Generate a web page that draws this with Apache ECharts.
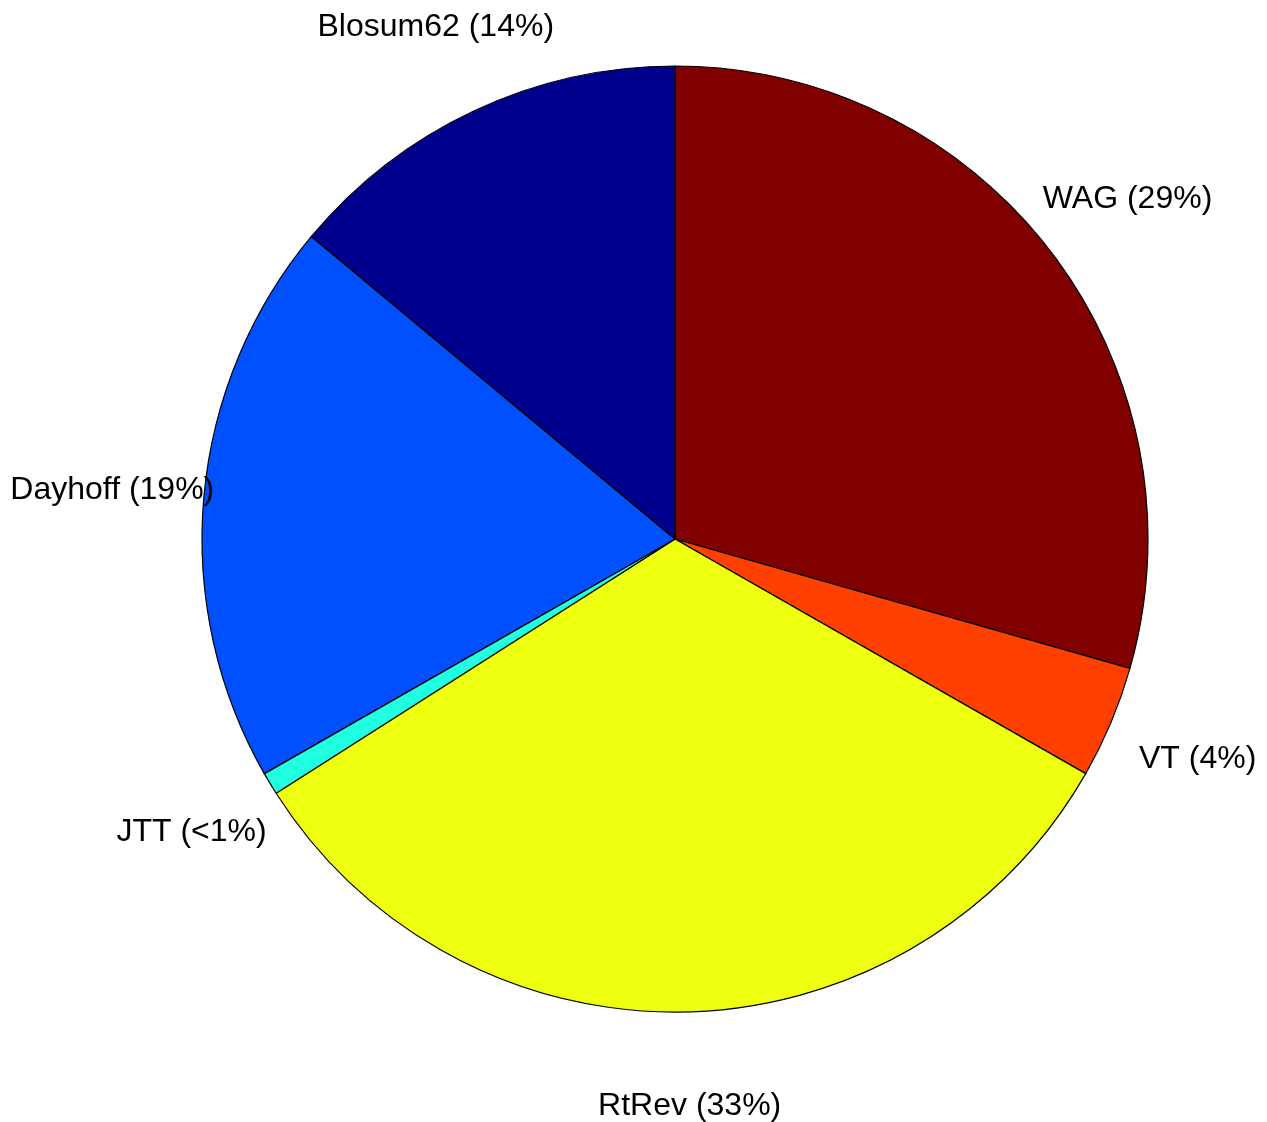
<!DOCTYPE html>
<html>
<head>
<meta charset="utf-8">
<script src="https://cdn.jsdelivr.net/npm/echarts@6/dist/echarts.min.js"></script>
<style>html,body{margin:0;padding:0;background:#fff;}#c{width:1267px;height:1122px;}</style>
</head>
<body>
<div id="c"></div>
<script>
const names = ['WAG', 'VT', 'RtRev', 'JTT', 'Dayhoff', 'Blosum62'];
const values = [29.4, 3.85, 32.7, 0.77, 19.3, 13.95];
const labels = ['WAG (29%)', 'VT (4%)', 'RtRev (33%)', 'JTT (<1%)', 'Dayhoff (19%)', 'Blosum62 (14%)'];
const colors = ['#800000', '#FF4000', '#EEFF10', '#20FFDF', '#0050FF', '#00008F'];

const R = 473;
const chart = echarts.init(document.getElementById('c'), null, {renderer: 'canvas'});
const mainData = names.map((n, i) => ({name: n, value: values[i], itemStyle: {color: colors[i]}}));
const labelData = names.map((n, i) => ({name: n, value: values[i], label: {formatter: labels[i]}}));
chart.setOption({
  backgroundColor: '#ffffff',
  animation: false,
  series: [
    {
      type: 'pie',
      center: [675, 539],
      radius: [0, R],
      startAngle: 90,
      clockwise: true,
      silent: true,
      label: {show: false},
      labelLine: {show: false},
      itemStyle: {borderColor: '#000000', borderWidth: 1.2},
      data: mainData
    },
    {
      type: 'pie',
      center: [675, 539],
      radius: [R * 1.19 - 2, R * 1.19 + 2],
      startAngle: 90,
      clockwise: true,
      silent: true,
      z: 5,
      itemStyle: {color: 'rgba(0,0,0,0)', borderWidth: 0},
      label: {
        show: true,
        position: 'inside',
        color: '#000000',
        fontFamily: 'Liberation Sans, Arial, Helvetica, sans-serif',
        fontSize: 32,
        offset: [1, 1],
        textBorderWidth: 0
      },
      labelLine: {show: false},
      data: labelData
    }
  ]
});
</script>
</body>
</html>
